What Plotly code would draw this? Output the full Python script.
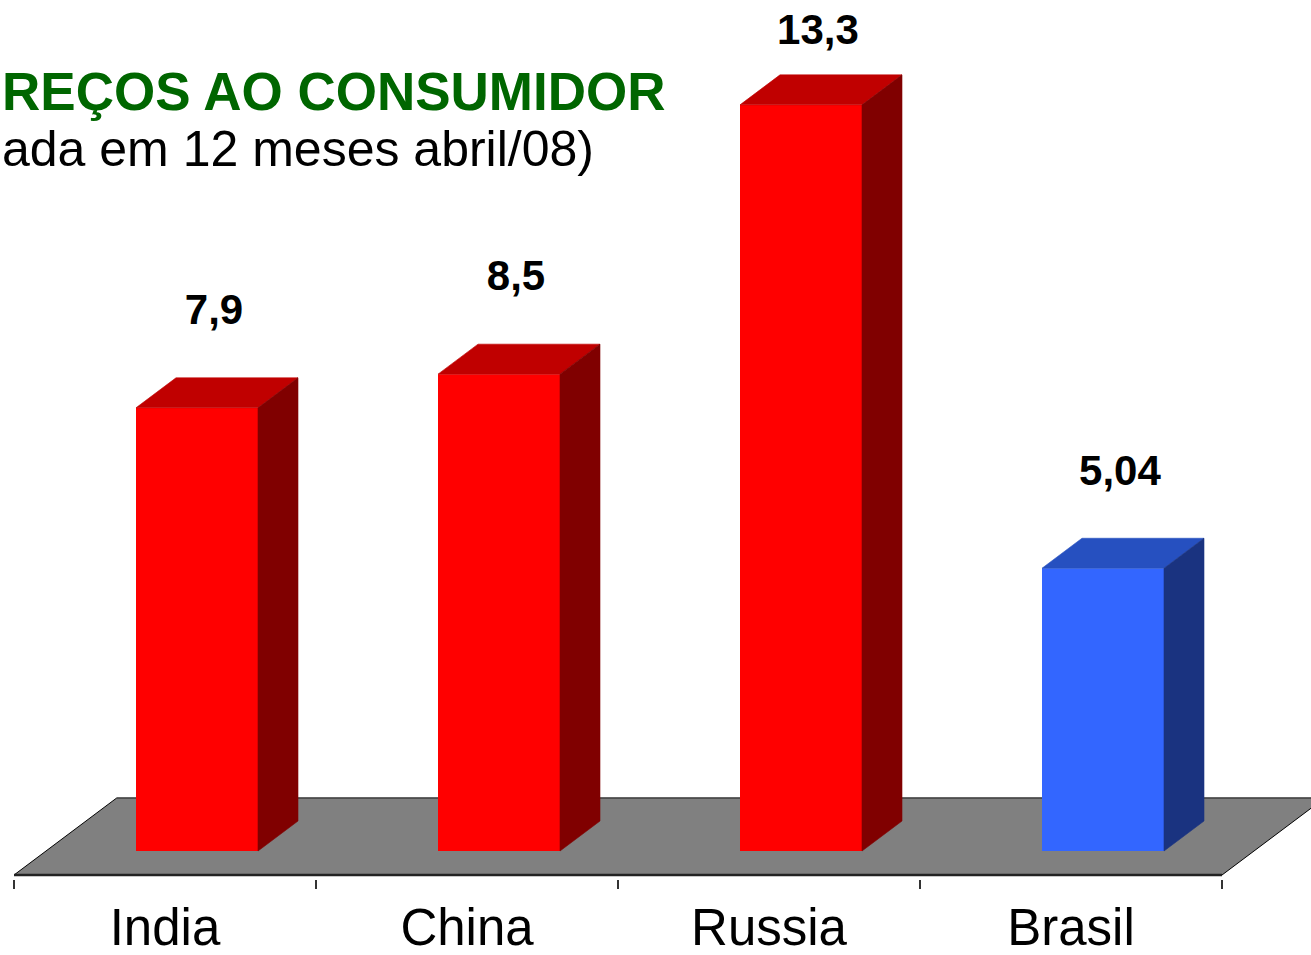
import plotly.graph_objects as go

# ---------------- data ----------------
categories = ["India", "China", "Russia", "Brasil"]
values = [7.9, 8.5, 13.3, 5.04]
front_colors = ["#FF0000", "#FF0000", "#FF0000", "#3366FF"]
top_colors = ["#C00000", "#C00000", "#C00000", "#2650C0"]
side_colors = ["#800000", "#800000", "#800000", "#1A3380"]
title_text = "REÇOS AO CONSUMIDOR"
subtitle_text = "ada em 12 meses abril/08)"

# ---------------- geometry (pixel scale of the page) ----------------
W, H = 1311, 955
PX_X = 302.0      # pixels per category
PX_Y = 56.1       # pixels per value unit
X0_PX = 197.0     # pixel x of first bar centre
Y0_PX = 851.0     # pixel y of value 0 at bar front
PLOT_BOTTOM = 879  # pixel y of plot-area bottom

DX = 40.0 / PX_X      # depth offset (x units)
DY = 30.0 / PX_Y      # depth offset (y units)
BAR_W = 122.0 / PX_X
FLOOR_FRONT = -0.8    # in depth units
FLOOR_BACK = 1.77

x_range = [(0 - X0_PX) / PX_X, (W - X0_PX) / PX_X]
y_range = [(Y0_PX - PLOT_BOTTOM) / PX_Y, Y0_PX / PX_Y]

xs = list(range(len(categories)))

fig = go.Figure()

# front faces
fig.add_trace(go.Bar(x=xs, y=values, width=BAR_W, marker_color=front_colors,
                     marker_line_width=0, hoverinfo="skip", showlegend=False))

# top & side faces
for x, v, tc, sc in zip(xs, values, top_colors, side_colors):
    xl, xr = x - BAR_W / 2, x + BAR_W / 2
    fig.add_trace(go.Scatter(
        x=[xl, xr, xr + DX, xl + DX, xl], y=[v, v, v + DY, v + DY, v],
        fill="toself", fillcolor=tc, mode="lines", line=dict(width=0.6, color=tc),
        hoverinfo="skip", showlegend=False))
    fig.add_trace(go.Scatter(
        x=[xr, xr, xr + DX, xr + DX, xr], y=[0, v, v + DY, DY, 0],
        fill="toself", fillcolor=sc, mode="lines", line=dict(width=0.6, color=sc),
        hoverinfo="skip", showlegend=False))

# value labels
label_top = y_range[1] - 33.0 / PX_Y
label_y = [min(v + 1.68, label_top) for v in values]
fig.add_trace(go.Scatter(
    x=[x + DX / 2 - 0.01 for x in xs], y=label_y, mode="text",
    text=["<b>" + str(v).replace(".", ",") + "</b>" for v in values],
    textfont=dict(family="Liberation Sans, Arial", size=42, color="black"),
    textposition="middle center", hoverinfo="skip", showlegend=False))

# floor
n = len(categories)
fl = -0.5 + FLOOR_FRONT * DX
fr = n - 0.5 + FLOOR_FRONT * DX
bl = -0.5 + FLOOR_BACK * DX
br = n - 0.5 + FLOOR_BACK * DX
yf = FLOOR_FRONT * DY
yb = FLOOR_BACK * DY
shapes = [
    dict(type="path", xref="x", yref="y", layer="below",
         path=f"M {fl},{yf} L {fr},{yf} L {br},{yb} L {bl},{yb} Z",
         fillcolor="#808080", line=dict(width=0)),
    dict(type="line", xref="x", yref="y", layer="below",
         x0=bl, y0=yb, x1=br, y1=yb, line=dict(color="black", width=1)),
    dict(type="line", xref="x", yref="y", layer="below",
         x0=fl, y0=yf, x1=bl, y1=yb, line=dict(color="black", width=1)),
    dict(type="line", xref="x", yref="y", layer="below",
         x0=fr, y0=yf, x1=br, y1=yb, line=dict(color="black", width=1)),
    dict(type="line", xref="x", yref="y", layer="below",
         x0=fl, y0=yf, x1=fr, y1=yf, line=dict(color="#222222", width=2.5)),
]

fig.update_layout(
    width=W, height=H,
    margin=dict(l=0, r=0, t=0, b=H - PLOT_BOTTOM, pad=0, autoexpand=False),
    paper_bgcolor="white", plot_bgcolor="white",
    shapes=shapes,
    xaxis=dict(range=x_range, showgrid=False, zeroline=False, showline=False,
               automargin=False,
               tickmode="array",
               tickvals=[x + FLOOR_FRONT * DX for x in xs], ticktext=categories,
               ticks="", ticklabelstandoff=14,
               tickfont=dict(family="Liberation Sans, Arial", size=51, color="black"),
               minor=dict(tickmode="array",
                          tickvals=[k - 0.5 + FLOOR_FRONT * DX for k in range(n + 1)],
                          ticks="outside", ticklen=9, tickwidth=1.5,
                          tickcolor="#333333", showgrid=False),
               fixedrange=True),
    yaxis=dict(range=y_range, visible=False, fixedrange=True, automargin=False),
    annotations=[
        dict(text=f"<b>{title_text}</b>", xref="paper", yref="paper",
             x=668 / W, y=1 - 99 / H, xanchor="right", yanchor="middle",
             showarrow=False,
             font=dict(family="Liberation Sans, Arial", size=53, color="#006600")),
        dict(text=subtitle_text, xref="paper", yref="paper",
             x=596 / W, y=1 - 162 / H, xanchor="right", yanchor="middle",
             showarrow=False,
             font=dict(family="Liberation Sans, Arial", size=50, color="black")),
    ],
)

fig.write_html("out.html")
